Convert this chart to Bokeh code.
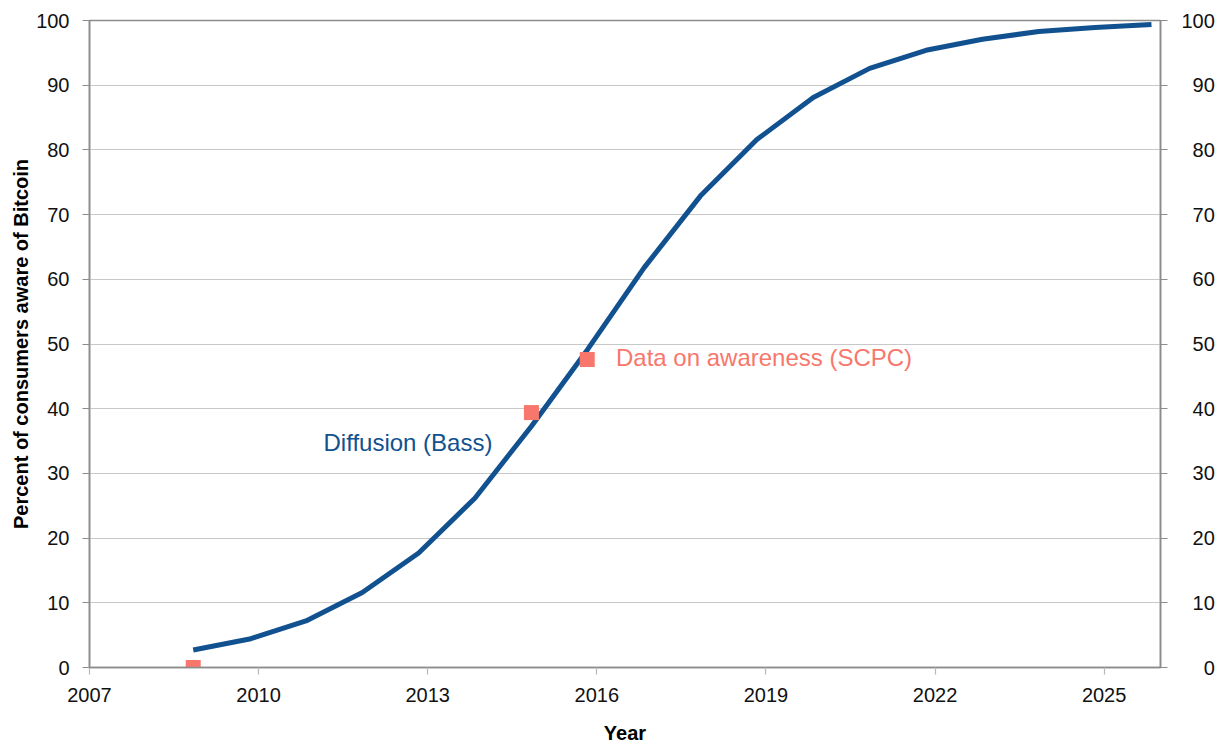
from bokeh.plotting import figure
from bokeh.models import Range1d, LinearAxis, FixedTicker, CustomJSTickFormatter
from bokeh.core.properties import value
from bokeh.embed import file_html
from bokeh.resources import INLINE

# Diffusion (Bass) curve, yearly points
bass_years = [2008.84 + i for i in range(18)]
bass_values = [2.7, 4.4, 7.2, 11.6, 17.7, 26.2, 37.3, 49.2, 61.8, 72.9,
               81.6, 88.1, 92.6, 95.4, 97.1, 98.3, 98.9, 99.4]

# Survey data on awareness (SCPC)
scpc_years = [2008.84, 2014.84, 2015.83]
scpc_values = [0.0, 39.4, 47.6]

x_ticks = [2007, 2010, 2013, 2016, 2019, 2022, 2025]
y_ticks = [0, 10, 20, 30, 40, 50, 60, 70, 80, 90, 100]

BLUE = "#12518f"
RED = "#f8776c"
FONT = "Liberation Sans"
AXIS_GRAY = "#8c8c8c"

p = figure(width=1231, height=748, output_backend="svg", toolbar_location=None,
           x_range=Range1d(2007, 2026), y_range=Range1d(0, 100),
           min_border_left=89, min_border_right=71, min_border_top=20, min_border_bottom=81)
p.background_fill_color = "white"
p.border_fill_color = "white"
p.outline_line_color = AXIS_GRAY
p.outline_line_width = 1.5

p.xgrid.grid_line_color = None
p.ygrid.grid_line_color = "#c8c8c8"
p.ygrid.grid_line_width = 1.2
p.ygrid.ticker = FixedTicker(ticks=y_ticks)

def style_axis(ax):
    ax.axis_line_color = AXIS_GRAY
    ax.axis_line_width = 1.6
    ax.major_tick_line_color = AXIS_GRAY
    ax.major_tick_line_width = 1.2
    ax.major_tick_out = 7
    ax.major_tick_in = 0
    ax.minor_tick_line_color = None
    ax.major_label_text_font = FONT
    ax.major_label_text_font_size = "20px"
    ax.major_label_text_color = "#111111"
    ax.axis_label_text_font = FONT
    ax.axis_label_text_font_size = "20px"
    ax.axis_label_text_font_style = "bold"
    ax.axis_label_text_color = "#000000"

xa = p.xaxis[0]
style_axis(xa)
xa.ticker = FixedTicker(ticks=x_ticks)
xa.major_tick_line_color = "#b8b8b8"
xa.axis_label = "Year"
xa.major_label_standoff = 13
xa.axis_label_standoff = 17

ya = p.yaxis[0]
style_axis(ya)
ya.ticker = FixedTicker(ticks=y_ticks)
ya.axis_label = "Percent of consumers aware of Bitcoin"
ya.major_label_standoff = 13
ya.axis_label_standoff = 1

ra = LinearAxis()
style_axis(ra)
ra.ticker = FixedTicker(ticks=y_ticks)
ra.major_label_standoff = 14
ra.formatter = CustomJSTickFormatter(code="return String(tick).padStart(3, '\u2007');")
p.add_layout(ra, "right")

p.line(bass_years, bass_values, line_color=BLUE, line_width=5)
p.scatter(scpc_years, scpc_values, marker="square", size=15, fill_color=RED, line_color=None)

p.text(x=[2012.65], y=[34.8], text=["Diffusion (Bass)"], text_font=value(FONT),
       text_font_size="24px", text_color=BLUE, text_align="center", text_baseline="middle")
p.text(x=[2016.34], y=[47.85], text=["Data on awareness (SCPC)"], text_font=value(FONT),
       text_font_size="24px", text_color=RED, text_align="left", text_baseline="middle")

open("out.html", "w").write(file_html(p, INLINE))
